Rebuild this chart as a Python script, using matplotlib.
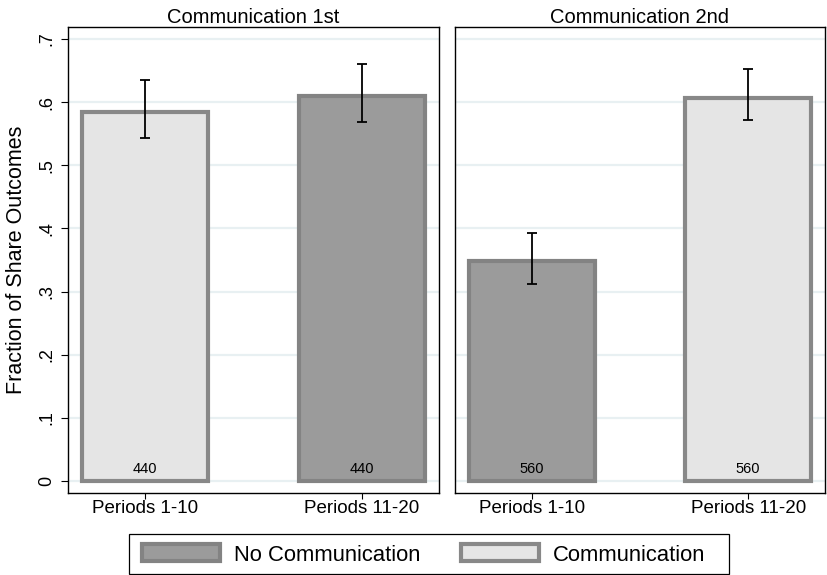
import matplotlib
matplotlib.use("Agg")
import matplotlib.pyplot as plt
from matplotlib.patches import Patch, Rectangle
import numpy as np

plt.rcParams['font.family'] = ['Liberation Sans', 'DejaVu Sans']

# Data
panels = ["Communication 1st", "Communication 2nd"]
periods = ["Periods 1-10", "Periods 11-20"]
share_c1 = [0.585, 0.610]
ci_low_c1 = [0.543, 0.568]
ci_high_c1 = [0.635, 0.660]
n_c1 = [440, 440]
share_c2 = [0.349, 0.607]
ci_low_c2 = [0.312, 0.571]
ci_high_c2 = [0.392, 0.652]
n_c2 = [560, 560]
# treatment in each bar: True = communication
comm_c1 = [True, False]
comm_c2 = [False, True]

yticks = [0, 0.1, 0.2, 0.3, 0.4, 0.5, 0.6, 0.7]
ytick_labels = ["0", ".1", ".2", ".3", ".4", ".5", ".6", ".7"]

dark_face, dark_edge = "#9b9b9b", "#838383"
light_face, light_edge = "#e5e5e5", "#888888"
grid_col = "#e8f0f2"

fig = plt.figure(figsize=(8.28, 5.75), dpi=100)
W, H = 828, 575

def px_axes(x0, x1, y0, y1):
    return fig.add_axes([x0 / W, 1 - y1 / H, (x1 - x0) / W, (y1 - y0) / H])

ax1 = px_axes(68, 439, 27, 493)
ax2 = px_axes(455, 825, 27, 493)

datasets = [
    (ax1, share_c1, ci_low_c1, ci_high_c1, n_c1, comm_c1),
    (ax2, share_c2, ci_low_c2, ci_high_c2, n_c2, comm_c2),
]

for i, (ax, vals, lo, hi, ns, comm) in enumerate(datasets):
    x = np.arange(len(vals))
    ax.set_xlim(-0.355, 1.355)
    ax.set_ylim(-0.019, 0.719)
    for yv in yticks:
        ax.axhline(yv, color=grid_col, lw=1.6, zorder=0)
    faces = [light_face if c else dark_face for c in comm]
    edges = [light_edge if c else dark_edge for c in comm]
    ax.bar(x, vals, width=0.585, color=faces, edgecolor=edges,
           linewidth=3.0, zorder=2)
    v = np.array(vals)
    yerr = np.vstack([v - np.array(lo), np.array(hi) - v])
    ax.errorbar(x, vals, yerr=yerr, fmt='none', ecolor='black',
                elinewidth=1.3, capsize=3.6, capthick=1.3, zorder=3)
    for xi, n in zip(x, ns):
        ax.text(xi, 0.013, str(n), ha='center', va='baseline',
                fontsize=10.5, zorder=4)
    ax.set_xticks(x)
    ax.set_xticklabels(periods, fontsize=13.5)
    ax.tick_params(axis='x', length=4, width=0.8, pad=1)
    ax.set_yticks(yticks)
    if i == 0:
        ax.set_yticklabels(ytick_labels, fontsize=13, rotation=90,
                           va='center')
        ax.tick_params(axis='y', length=5, width=0.8, pad=4)
        ax.set_ylabel("Fraction of Share Outcomes", fontsize=15.5, labelpad=8)
    else:
        ax.tick_params(axis='y', length=0, labelleft=False)
    for sp in ax.spines.values():
        sp.set_linewidth(1.0)
        sp.set_color("black")
    ax.set_title(panels[i], fontsize=14.5, pad=1.5)

handles = [
    Patch(facecolor=dark_face, edgecolor=dark_edge, linewidth=3.0,
          label="No Communication"),
    Patch(facecolor=light_face, edgecolor=light_edge, linewidth=3.0,
          label="Communication"),
]
leg = fig.legend(handles=handles, loc='center', ncol=2,
                 bbox_to_anchor=(424 / W, 1 - 555 / H),
                 fontsize=15.8, frameon=False,
                 handlelength=3.55, handleheight=0.82, handletextpad=0.64,
                 columnspacing=1.85, borderpad=0.4, borderaxespad=0)

# legend box, wider on the right as in the original layout
fig.patches.append(Rectangle((129.5 / W, 1 - 574 / H), (729 - 129.5) / W,
                             40 / H, transform=fig.transFigure,
                             facecolor='none', edgecolor='black',
                             linewidth=0.9, zorder=0))

fig.savefig("out.png", dpi=100)
